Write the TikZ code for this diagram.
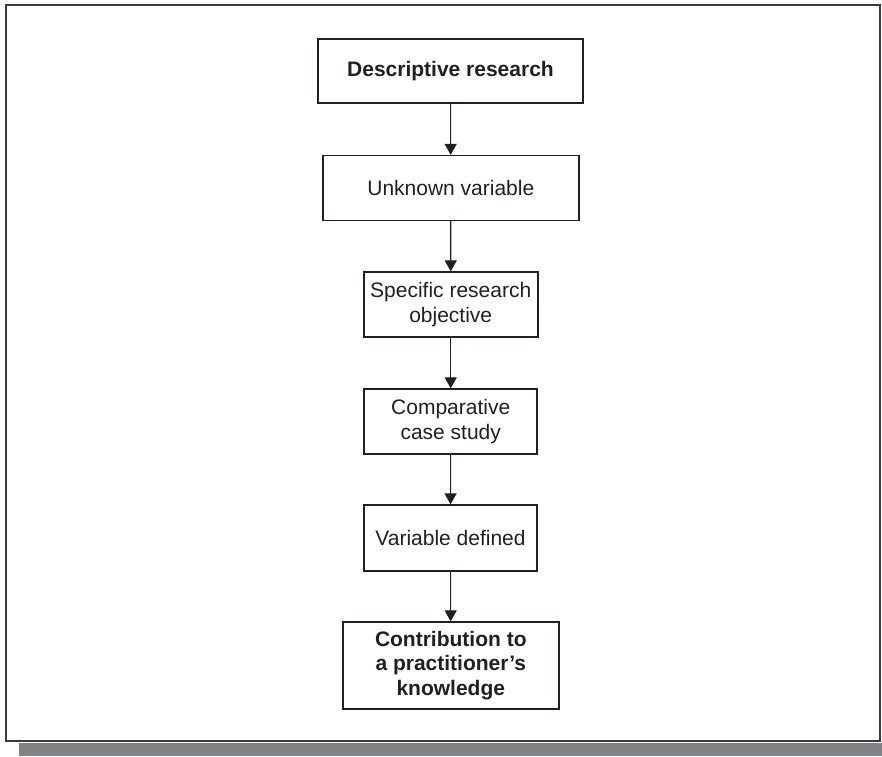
\documentclass[tikz,border=0pt]{standalone}
\usepackage{fontspec}
\setmainfont{Liberation Sans}
\usetikzlibrary{arrows.meta}
\definecolor{ink}{HTML}{231F20}
\definecolor{shadowgray}{HTML}{808285}
\definecolor{framegray}{HTML}{3A3A3C}
\tikzset{
  stepbox/.style={draw=ink, line width=1.6pt, rectangle, inner sep=0pt, outer sep=0pt,
    align=center, text=ink, font=\fontsize{21}{24.6}\selectfont},
  flowarrow/.style={draw=ink, line width=1.1pt, -{Triangle[width=12pt,length=11pt]}, shorten >=0.6pt}
}
\begin{document}
\begin{tikzpicture}[x=1pt,y=-1pt]
\useasboundingbox (0,0) rectangle (882,756);
% shadow and frame
\fill[shadowgray] (19,743) rectangle (882,756);
\draw[framegray, line width=2pt] (5.5,4.5) rectangle (880,741);
% boxes
\node[stepbox, minimum width=265pt, minimum height=64pt] (b1) at (450.5,71) {\bfseries Descriptive research};
\node[stepbox, minimum width=256pt, minimum height=65pt] (b2) at (450.8,188) {Unknown variable};
\node[stepbox, minimum width=174pt, minimum height=65pt] (b3) at (450.7,304.5) {Specific research\\objective};
\node[stepbox, minimum width=173pt, minimum height=65pt] (b4) at (450.7,421.5) {Comparative\\case study};
\node[stepbox, minimum width=173pt, minimum height=66pt] (b5) at (450.5,538) {Variable defined};
\node[stepbox, minimum width=216pt, minimum height=87pt] (b6) at (450.8,665.5) {\bfseries Contribution to\\\bfseries a practitioner’s\\\bfseries knowledge};
% arrows
\draw[flowarrow] (b1) -- (b2);
\draw[flowarrow] (b2) -- (b3);
\draw[flowarrow] (b3) -- (b4);
\draw[flowarrow] (b4) -- (b5);
\draw[flowarrow] (b5) -- (b6);
\end{tikzpicture}
\end{document}
